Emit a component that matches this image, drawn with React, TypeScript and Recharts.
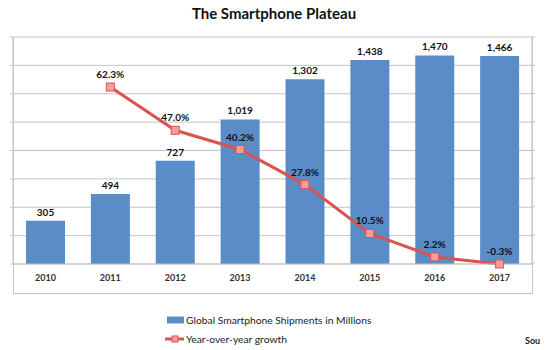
import React from 'react';
import { ComposedChart, Bar, Line, XAxis, YAxis, CartesianGrid, LabelList } from 'recharts';

const years = ['2010', '2011', '2012', '2013', '2014', '2015', '2016', '2017'];
const shipments = [305, 494, 727, 1019, 1302, 1438, 1470, 1466];
const growth: (number | null)[] = [null, 62.3, 47.0, 40.2, 27.8, 10.5, 2.2, -0.3];
const shipmentTicks = [0, 200, 400, 600, 800, 1000, 1200, 1400, 1600];
const growthTicks = [0, 10, 20, 30, 40, 50, 60, 70, 80];
const boundaryTicks = [0, 1, 2, 3, 4, 5, 6, 7, 8];

const seriesNames = ['Global Smartphone Shipments in Millions', 'Year-over-year growth'];

const data = years.map((year, i) => ({ year, shipments: shipments[i], growth: growth[i] }));

const FONT = 'Lato, "Open Sans", sans-serif';
const BLUE = '#5A8DC8';
const RED = '#D9534F';
const MARKER = '#F3A09C';
const GRID = '#C4C4C4';

const SquareDot = (props: any) => {
  const { cx, cy, value, index } = props;
  if (cx == null || cy == null || value == null) return <g key={`d-${index}`} />;
  return (
    <rect key={`d-${index}`} x={cx - 4} y={cy - 4} width={8} height={8} fill={MARKER} stroke={RED} strokeWidth={1} />
  );
};

export default function App() {
  return (
    <div style={{ position: 'absolute', left: 0, top: 0, width: 550, height: 350, background: '#fff', fontFamily: FONT }}>
      <div
        style={{
          position: 'absolute', left: 0, width: 548, top: 4, textAlign: 'center',
          fontSize: 15, fontWeight: 700, color: '#111',
        }}
      >
        The Smartphone Plateau
      </div>
      <div
        style={{
          position: 'absolute', left: 13, top: 37, width: 518, height: 256,
          borderLeft: `1px solid ${GRID}`, borderRight: `1px solid ${GRID}`, borderBottom: `1px solid ${GRID}`,
        }}
      />
      <div style={{ position: 'absolute', left: 0, top: 0 }}>
        <ComposedChart width={550} height={350} data={data} margin={{ top: 37, right: 15, bottom: 61, left: 10 }}>
          <CartesianGrid vertical={false} stroke={GRID} />
          <XAxis
            xAxisId="edge"
            type="number"
            domain={[0, 8]}
            ticks={boundaryTicks}
            tickFormatter={() => ''}
            axisLine={false}
            tickSize={3}
            height={0}
            stroke={GRID}
          />
          <XAxis
            dataKey="year"
            tickLine={false}
            axisLine={{ stroke: GRID }}
            tickSize={9}
            height={25}
            interval={0}
            tick={{ fontSize: 9, fontWeight: 700, fill: '#333', fontFamily: FONT }}
          />
          <YAxis
            domain={[0, 1600]}
            ticks={shipmentTicks}
            width={3}
            tickSize={3}
            tickFormatter={() => ''}
            axisLine={{ stroke: GRID }}
            tickLine={{ stroke: GRID }}
          />
          <YAxis
            yAxisId="pct"
            orientation="right"
            domain={() => [growthTicks[0], growthTicks[growthTicks.length - 1]]}
            ticks={growthTicks}
            width={3}
            tickSize={3}
            tickFormatter={() => ''}
            axisLine={{ stroke: GRID }}
            tickLine={{ stroke: GRID }}
          />
          <Bar dataKey="shipments" name={seriesNames[0]} fill={BLUE} barSize={39} isAnimationActive={false}>
            <LabelList
              dataKey="shipments"
              position="top"
              offset={5}
              formatter={(v: any) => Number(v).toLocaleString('en-US')}
              style={{ fontSize: 10, fontWeight: 700, fill: '#111', fontFamily: FONT }}
            />
          </Bar>
          <Line
            yAxisId="pct"
            dataKey="growth"
            name={seriesNames[1]}
            stroke={RED}
            strokeWidth={3}
            dot={SquareDot}
            activeDot={false}
            isAnimationActive={false}
          >
            <LabelList
              dataKey="growth"
              position="top"
              offset={9}
              formatter={(v: any) => (v == null ? '' : `${Number(v).toFixed(1)}%`)}
              style={{ fontSize: 10, fontWeight: 700, fill: '#111', fontFamily: FONT }}
            />
          </Line>
        </ComposedChart>
      </div>
      <div style={{ position: 'absolute', left: 165, top: 310, fontSize: 10.3, color: '#222', fontFamily: FONT }}>
        <div style={{ display: 'flex', alignItems: 'center', height: 19 }}>
          <svg width={20} height={10} style={{ marginRight: 1 }}>
            <rect x={2} y={1.5} width={17} height={7} fill={BLUE} />
          </svg>
          {seriesNames[0]}
        </div>
        <div style={{ display: 'flex', alignItems: 'center', height: 19 }}>
          <svg width={20} height={10} style={{ marginRight: 1 }}>
            <line x1={0} y1={5} x2={19} y2={5} stroke={RED} strokeWidth={3} />
            <rect x={7} y={2} width={6} height={6} fill={MARKER} stroke={RED} strokeWidth={1} />
          </svg>
          {seriesNames[1]}
        </div>
      </div>
      <div style={{ position: 'absolute', left: 525, top: 335, fontSize: 9, fontWeight: 700, color: '#222', fontFamily: FONT }}>
        Sou
      </div>
    </div>
  );
}
